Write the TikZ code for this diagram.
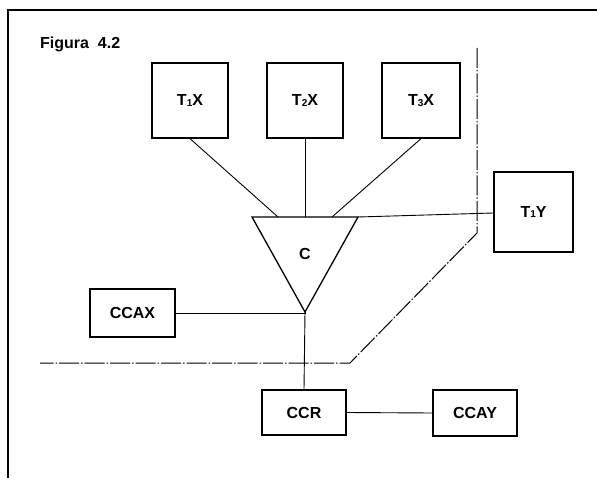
\documentclass[tikz,border=0pt]{standalone}
\usepackage{fontspec}
\setmainfont{Liberation Sans}
\newcommand{\lowsub}[1]{\raisebox{-0.8pt}{\fontsize{10}{10}\selectfont #1}}
\begin{document}
\begin{tikzpicture}[x=1pt,y=-1pt,
  box/.style={draw,line width=1.3pt,inner sep=0pt,font=\fontsize{16}{16}\selectfont\bfseries},
  conn/.style={line width=0.9pt},
  frame/.style={line width=1.4pt},
  zone/.style={line width=1pt,dash pattern=on 20pt off 2pt on 1.5pt off 2pt}]
\useasboundingbox (0,0) rectangle (597,481);
% frame (top and left only)
\draw[frame] (597,10) coordinate (fr) -- (8,10) coordinate (ftl) -- (8,478) coordinate (fbl);
\node[font=\fontsize{16}{16}\selectfont\bfseries,anchor=west,inner sep=0pt] (title) at (40,44) {Figura\ \ 4.2};
% boxes
\node[box,minimum width=76pt,minimum height=75pt] (t1x) at (190,100.5) {T\lowsub{1}X};
\node[box,minimum width=76pt,minimum height=75pt] (t2x) at (305,100.5) {T\lowsub{2}X};
\node[box,minimum width=78pt,minimum height=75pt] (t3x) at (421,100.5) {T\lowsub{3}X};
\node[box,minimum width=79pt,minimum height=80pt] (t1y) at (533.5,212) {T\lowsub{1}Y};
\node[box,minimum width=85pt,minimum height=48pt] (ccax) at (132.5,313) {CCAX};
\node[box,minimum width=84pt,minimum height=45pt] (ccr) at (304,412.5) {CCR};
\node[box,minimum width=84pt,minimum height=46pt] (ccay) at (475,413) {CCAY};
% triangle C
\coordinate (tl) at (252,217);
\coordinate (tr) at (358,217);
\coordinate (apex) at (305,312);
\draw[line width=1.3pt,line join=miter] (tl) -- (tr) -- (apex) -- cycle;
\node[font=\fontsize{16}{16}\selectfont\bfseries] (c) at (305,254) {C};
\coordinate (in1) at (278,217);
\coordinate (in2) at (305,217);
\coordinate (in3) at (332,217);
% dashed zone boundary
\coordinate (z1) at (477,48);
\coordinate (z2) at (477,233);
\coordinate (z3) at (350,363);
\coordinate (z4) at (40,363);
\draw[zone] (z1) -- (z2) -- (z3) -- (z4);
% connectors
\draw[conn] (t1x.south) -- (in1);
\draw[conn] (t2x.south) -- (in2);
\draw[conn] (t3x.south) -- (in3);
\draw[conn] (tr) -- (t1y.west |- 0,213);
\draw[conn] (ccax.east) -- (ccax.east -| apex) -- (apex);
\draw[conn] (apex) -- (ccr.north);
\draw[conn] (ccr.east) -- (ccay.west);
\end{tikzpicture}
\end{document}
